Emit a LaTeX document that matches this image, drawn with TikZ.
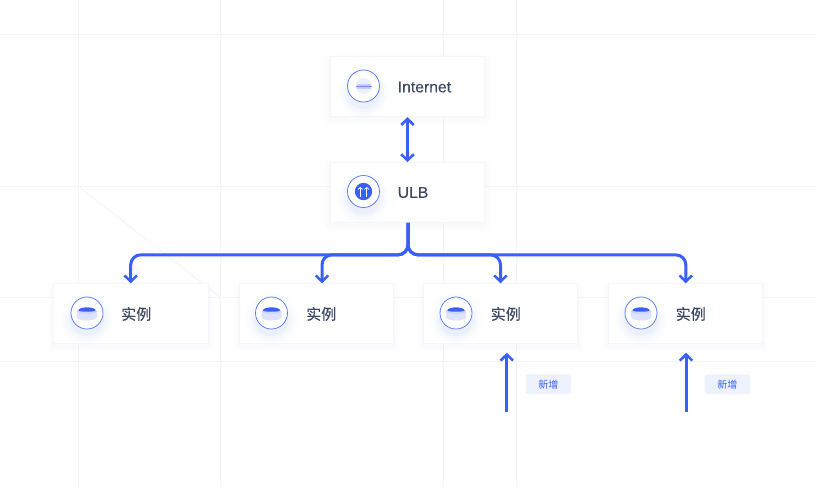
\documentclass[tikz,border=0pt]{standalone}
\usepackage{fontspec}
\setmainfont[FakeBold=0.1]{Liberation Sans}
\newfontfamily\cjk[FakeBold=0.15]{Noto Sans CJK SC}
\newfontfamily\cjktag{Noto Sans CJK SC}
\usetikzlibrary{arrows.meta,calc}
\definecolor{gridc}{HTML}{F3F5FA}
\definecolor{boxline}{HTML}{F4F6FD}
\definecolor{blue1}{HTML}{3860F4}
\definecolor{txt}{HTML}{3A4662}
\definecolor{tagbg}{HTML}{EEF2FE}
\definecolor{pale}{HTML}{DDE3FC}
\tikzset{
  x=0.75pt,y=-0.75pt,
  gridline/.style={draw=gridc,line width=0.75pt},
  card/.style={draw=boxline,line width=0.75pt,fill=white,minimum width=115.6pt,minimum height=44.8pt,inner sep=0pt},
  flow/.style={draw=blue1,line width=2.25pt,rounded corners=7.5pt,-{Straight Barb[length=4.6pt,width=9.4pt,line width=1.9pt]}},
  flowboth/.style={draw=blue1,line width=2.25pt,{Straight Barb[length=4.6pt,width=9.4pt,line width=1.9pt]}-{Straight Barb[length=4.6pt,width=9.4pt,line width=1.9pt]}},
  iconring/.style={circle,draw=blue1!85!white,line width=0.55pt,fill=white,minimum size=24pt,inner sep=0pt},
  label/.style={font=\fontsize{11.8pt}{12pt}\selectfont,text=txt,anchor=west,inner sep=0pt},
  cjklabel/.style={font=\cjk\fontsize{11.25pt}{12pt}\selectfont,text=txt,anchor=west,inner sep=0pt},
  tagbox/.style={fill=tagbg,rounded corners=2pt,minimum width=34pt,minimum height=14.75pt,inner sep=0pt,font=\cjktag\fontsize{7.5pt}{8pt}\selectfont,text=blue1},
}
\newcommand{\cardshadow}[2]{%
  \foreach \d/\o in {6/0.005,4/0.006,2/0.008}{
    \fill[blue1,opacity=\o,rounded corners=3pt] ($(#1,#2)+(-77.5-\d,-30-\d+3)$) rectangle ($(#1,#2)+(77.5+\d,30+\d+3)$);
  }}
\newcommand{\ringshadow}[2]{%
  \foreach \r/\o in {26/0.010,23/0.014,20/0.022,17/0.035}{
    \fill[blue1,opacity=\o] (#1,#2+6) circle[radius=\r];
  }}
\newcommand{\disk}[2]{%
  \fill[pale] (#1-10,#2-2) -- (#1-10,#2+4) arc[start angle=180,end angle=0,x radius=10,y radius=3.5] -- (#1+10,#2-2) -- cycle;
  \fill[pale!70!blue1!60!white] (#1,#2-2) ellipse[x radius=10,y radius=3];
  \fill[blue1] (#1-8.5,#2-2.5) arc[start angle=180,end angle=360,x radius=8.5,y radius=3.2] arc[start angle=0,end angle=180,x radius=8.5,y radius=1.2] -- cycle;
}
\begin{document}
\begin{tikzpicture}
\useasboundingbox (0,0) rectangle (816,487);
\fill[white] (0,0) rectangle (816,487);
% background grid
\foreach \gx in {78,220,443,516}{\draw[gridline] (\gx,0) -- (\gx,487);}
\foreach \gy in {34,186,297,361}{\draw[gridline] (0,\gy) -- (816,\gy);}
\draw[gridline] (78,186) -- (220,297);
% shadows
\cardshadow{407.7}{86.7}
\cardshadow{407.7}{192.5}
\cardshadow{131}{313.7}
\cardshadow{316.3}{313.7}
\cardshadow{500.7}{313.7}
\cardshadow{685.7}{313.7}
% cards
\node[card] (inet) at (407.5,86.7) {};
\node[card] (ulb) at (407.5,192.5) {};
\node[card] (inst1) at (131,313.7) {};
\node[card] (inst2) at (316.3,313.7) {};
\node[card] (inst3) at (500.5,313.7) {};
\node[card] (inst4) at (685.5,313.7) {};
% icons
\ringshadow{363.5}{86}
\node[iconring] (icI) at (363.5,86) {};
\fill[pale!55!white] (363.5,86) circle[radius=8];
\fill[pale!85!blue1] (356.5,84) rectangle (370.5,88.5);
\draw[blue1!75!white,line width=0.6pt] (355.5,86.7) -- (371.5,86.7);
\ringshadow{363.5}{191.5}
\node[iconring] (icU) at (363.5,191.5) {};
\node[circle,fill=blue1,minimum size=13pt,inner sep=0pt] (icUb) at (363.5,191.5) {};
\draw[white,line width=1pt,-{Straight Barb[length=1.4pt,width=3.4pt,line width=0.6pt]}] (360.3,196.5) -- (360.3,187);
\draw[white,line width=1pt,-{Straight Barb[length=1.4pt,width=3.4pt,line width=0.6pt]}] (366.7,196.5) -- (366.7,187);
\foreach \ix/\nm in {87/a,271.5/b,456/c,641/d}{
  \ringshadow{\ix}{313}
  \node[iconring] (ic\nm) at (\ix,313) {};
  \disk{\ix}{313}
}
% labels
\node[label] (tI) at (397.5,87) {Internet};
\node[label] (tU) at (397.5,192.5) {ULB};
\node[cjklabel] (t1) at (121,314) {实例};
\node[cjklabel] (t2) at (306,314) {实例};
\node[cjklabel] (t3) at (490.5,314) {实例};
\node[cjklabel] (t4) at (675.5,314) {实例};
% connectors
\draw[flowboth] (inet.south) -- (ulb.north);
\coordinate (busI) at ($(ulb.south)+(0.5,0)$);
\draw[flow] (busI) |- ($(inst1.north)+(-0.3,-28.5)$) -- ($(inst1.north)+(-0.3,0)$);
\draw[flow] (busI) |- ($(inst2.north)+(5.7,-28.5)$) -- ($(inst2.north)+(5.7,0)$);
\draw[flow] (busI) |- ($(inst3.north)+(0,-28.5)$) -- ($(inst3.north)+(0,0)$);
\draw[flow] (busI) |- ($(inst4.north)+(0.3,-28.5)$) -- ($(inst4.north)+(0.3,0)$);
% additions
\node[tagbox] (tag1) at (548.3,384.2) {新增};
\node[tagbox] (tag2) at (727.3,384.2) {新增};
\coordinate (from1) at (506.8,412);
\coordinate (from2) at (686,412);
\draw[flow,shorten >=6.5pt] (from1) -- (from1 |- inst3.south);
\draw[flow,shorten >=6.5pt] (from2) -- (from2 |- inst4.south);
\end{tikzpicture}
\end{document}
